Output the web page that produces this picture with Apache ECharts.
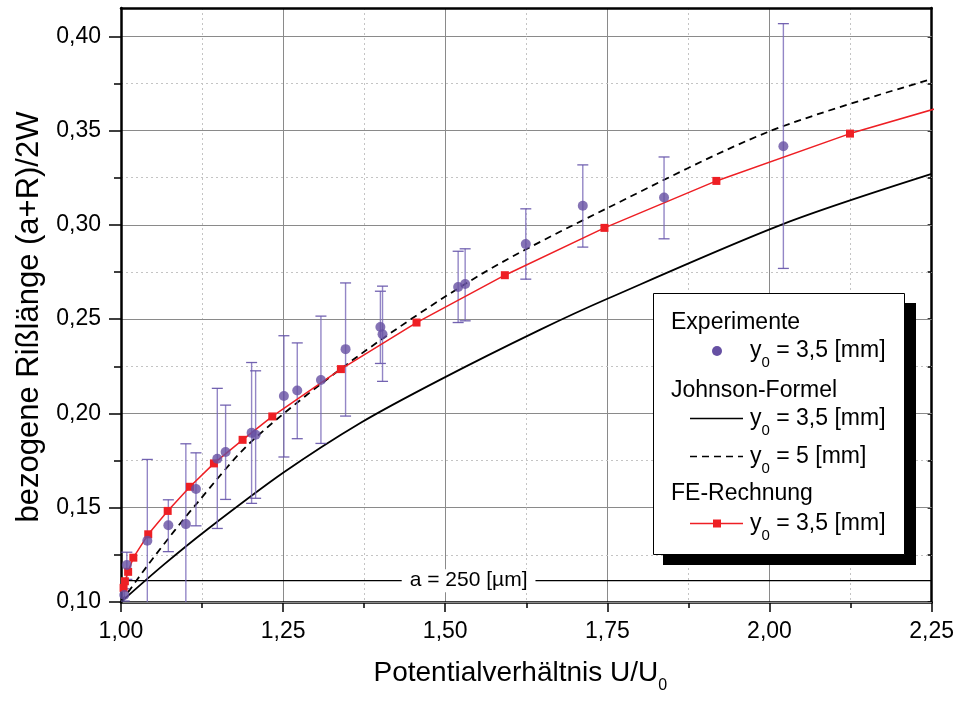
<!DOCTYPE html>
<html><head><meta charset="utf-8">
<script src="https://cdn.jsdelivr.net/npm/echarts@6/dist/echarts.min.js"></script>
<style>html,body{margin:0;padding:0;background:#fff}#c{width:957px;height:701px}</style>
</head><body><div id="c"></div>
<script>
// Experiment points [U/U0, (a+R)/2W]
const EXP = [
  [1.005, 0.1037], [1.009, 0.1196], [1.0406, 0.1325], [1.073, 0.1407], [1.100, 0.1413],
  [1.1156, 0.1599], [1.1485, 0.1760], [1.1613, 0.1795], [1.2014, 0.1897], [1.2076, 0.1887],
  [1.2512, 0.2092], [1.2718, 0.2122], [1.3083, 0.2177], [1.3463, 0.2341], [1.400, 0.2458],
  [1.4033, 0.2420], [1.5199, 0.2670], [1.5307, 0.2686], [1.6242, 0.2898], [1.7121, 0.3101],
  [1.8374, 0.3145], [2.0214, 0.3417]
];
// Error bars [U/U0, low, high]
const EXP_ERR = [
  [1.005, 0.1005, 0.1070], [1.009, 0.1120, 0.1264], [1.0406, 0.085, 0.1756], [1.073, 0.1267, 0.1542],
  [1.100, 0.085, 0.1839], [1.1156, 0.1404, 0.1791], [1.1485, 0.1390, 0.2133], [1.1613, 0.1544, 0.2044],
  [1.2014, 0.1523, 0.2270], [1.2076, 0.1550, 0.2226], [1.2512, 0.1769, 0.2412], [1.2718, 0.1866, 0.2374],
  [1.3083, 0.1841, 0.2516], [1.3463, 0.1986, 0.2692], [1.400, 0.2265, 0.2648], [1.4033, 0.2170, 0.2675],
  [1.5199, 0.2482, 0.2860], [1.5307, 0.2491, 0.2873], [1.6242, 0.2712, 0.3085], [1.7121, 0.2882, 0.3318],
  [1.8374, 0.2926, 0.3360], [2.0214, 0.2769, 0.4067]
];
// FE-Rechnung
const FE = [
  [1.004, 0.1075], [1.006, 0.1110], [1.011, 0.1160], [1.019, 0.1235],
  [1.042, 0.1359], [1.072, 0.1483], [1.1063, 0.1611], [1.1433, 0.1735], [1.1875, 0.1860],
  [1.2333, 0.1984], [1.3391, 0.2235], [1.4557, 0.2482], [1.5919, 0.2733], [1.7455, 0.2984],
  [1.9181, 0.3233], [2.1241, 0.3484], [2.36, 0.3720]
];
// Johnson-Formel y0 = 3,5 mm
const JOHNSON_35 = [
  [1.000, 0.1000], [1.066, 0.1198], [1.132, 0.1382], [1.250, 0.1685],
  [1.3684, 0.1948], [1.4917, 0.2178], [1.6458, 0.2443], [1.750, 0.2608], [2.0208, 0.3004],
  [2.250, 0.3270]
];
// Johnson-Formel y0 = 5 mm
const JOHNSON_5 = [
  [1.000, 0.1000], [1.050, 0.1235], [1.1167, 0.1522], [1.2039, 0.1860], [1.3684, 0.2311],
  [1.5584, 0.2744], [1.750, 0.3089], [2.000, 0.3496], [2.250, 0.3773]
];
const A250 = 0.1113;
const A250_LABEL_X = 1.536;
const Y_MAJOR = [0.10, 0.15, 0.20, 0.25, 0.30, 0.35, 0.40];
const Y_MINOR = [0.125, 0.175, 0.225, 0.275, 0.325, 0.375];
const Y_ALL = [0.10, 0.125, 0.15, 0.175, 0.20, 0.225, 0.25, 0.275, 0.30, 0.325, 0.35, 0.375, 0.40];

const FONT = "'Liberation Sans', Arial, sans-serif";
const fmt = v => v.toFixed(2).replace('.', ',');
const sub = (fs, subfs) => ({
  m: {fontSize: fs, fontFamily: FONT, color: '#000', lineHeight: fs + 8, verticalAlign: 'top'},
  s: {fontSize: subfs, fontFamily: FONT, color: '#000', lineHeight: subfs, verticalAlign: 'bottom'}
});

const chart = echarts.init(document.getElementById('c'), null, {renderer: 'canvas'});
const GRID = {left: 121, right: 25, top: 8, bottom: 99};

const legendItems = [];
function lText(x, y, t, rich) {
  legendItems.push({type: 'text', left: x, top: y, z: 102,
    style: rich ? {text: t, rich: sub(23, 15), fill: '#000'} : {text: t, font: '23px ' + FONT, fill: '#000'}});
}
legendItems.push({type: 'rect', shape: {x: 663, y: 303, width: 253, height: 262}, style: {fill: '#000'}, z: 100});
legendItems.push({type: 'rect', shape: {x: 653.5, y: 293.5, width: 251, height: 261}, style: {fill: '#fff', stroke: '#000', lineWidth: 1}, z: 101});
lText(671, 311, 'Experimente');
legendItems.push({type: 'circle', shape: {cx: 717, cy: 351, r: 5}, style: {fill: '#6650a3'}, z: 102});
lText(750, 339, '{m|y}{s|0}{m| = 3,5 [mm]}', true);
lText(671, 379, 'Johnson-Formel');
legendItems.push({type: 'line', shape: {x1: 690, y1: 418.5, x2: 743, y2: 418.5}, style: {stroke: '#000', lineWidth: 1.5}, z: 102});
lText(750, 407, '{m|y}{s|0}{m| = 3,5 [mm]}', true);
legendItems.push({type: 'line', shape: {x1: 690, y1: 456.5, x2: 743, y2: 456.5}, style: {stroke: '#000', lineWidth: 1.5, lineDash: [7, 5]}, z: 102});
lText(750, 445, '{m|y}{s|0}{m| = 5 [mm]}', true);
lText(671, 482, 'FE-Rechnung');
legendItems.push({type: 'line', shape: {x1: 690, y1: 523.5, x2: 743, y2: 523.5}, style: {stroke: '#ee1f24', lineWidth: 1.5}, z: 102});
legendItems.push({type: 'rect', shape: {x: 713, y: 519.5, width: 8, height: 8}, style: {fill: '#ee1f24'}, z: 103});
lText(750, 512, '{m|y}{s|0}{m| = 3,5 [mm]}', true);

const option = {
  backgroundColor: '#fff',
  animation: false,
  grid: GRID,
  xAxis: [{
    type: 'value', min: 1, max: 2.25, interval: 0.25, position: 'bottom',
    axisLine: {show: true, onZero: false, lineStyle: {color: '#000', width: 2.5}},
    axisTick: {show: true, inside: false, length: 10, lineStyle: {color: '#000', width: 1.5}},
    minorTick: {show: true, splitNumber: 2, length: 6, lineStyle: {color: '#000', width: 1.5}},
    splitLine: {show: true, lineStyle: {color: '#8a8a8a', width: 1}},
    minorSplitLine: {show: true, lineStyle: {color: '#c4c4c4', width: 1, type: [2, 3]}},
    axisLabel: {formatter: fmt, fontSize: 23, fontFamily: FONT, color: '#000', margin: 18},
    name: '{m|Potentialverhältnis U/U}{s|0}', nameLocation: 'middle', nameGap: 57,
    nameTextStyle: {padding: [0, 12, 0, 0], rich: {
      m: {fontSize: 28, fontFamily: FONT, color: '#000', lineHeight: 35, verticalAlign: 'top'},
      s: {fontSize: 16, fontFamily: FONT, color: '#000', lineHeight: 16, verticalAlign: 'bottom'}
    }}
  }, {
    type: 'value', min: 1, max: 2.25, interval: 0.25, position: 'top',
    axisLine: {show: true, onZero: false, lineStyle: {color: '#000', width: 2.5}},
    axisTick: {show: false}, axisLabel: {show: false}, splitLine: {show: false}
  }],
  yAxis: [{
    type: 'value', min: 0.10, max: 0.415, interval: 0.05, position: 'left', z: 2,
    axisLine: {show: true, onZero: false, lineStyle: {color: '#000', width: 2.5}},
    axisTick: {show: true, length: 12, customValues: Y_MAJOR, lineStyle: {color: '#000', width: 1.5}},
    splitLine: {show: true, lineStyle: {color: '#8a8a8a', width: 1}},
    axisLabel: {customValues: Y_MAJOR, formatter: fmt, fontSize: 23, fontFamily: FONT, color: '#000', margin: 20},
    name: 'bezogene Rißlänge (a+R)/2W', nameLocation: 'middle', nameGap: 74,
    nameTextStyle: {fontSize: 31, fontFamily: FONT, color: '#000', padding: [0, 24, 0, 0]}
  }, {
    type: 'value', min: 0.10, max: 0.415, interval: 0.025, position: 'left', z: 1,
    axisLine: {show: false},
    axisTick: {show: true, length: 7, customValues: Y_MINOR, lineStyle: {color: '#000', width: 1.5}},
    splitLine: {show: true, lineStyle: {color: '#c4c4c4', width: 1, type: [2, 3]}},
    axisLabel: {show: false}
  }, {
    type: 'value', min: 0.10, max: 0.415, interval: 0.025, position: 'right',
    axisLine: {show: true, onZero: false, lineStyle: {color: '#000', width: 2.5}},
    axisTick: {show: true, inside: true, length: 4, customValues: Y_ALL, lineStyle: {color: '#000', width: 1.5}},
    splitLine: {show: false}, axisLabel: {show: false}
  }],
  graphic: legendItems,
  series: [
    {
      name: 'a250', type: 'line', xAxisIndex: 0, yAxisIndex: 0, symbol: 'none', silent: true, z: 3,
      data: [[1.0, A250], [2.25, A250]],
      lineStyle: {color: '#000', width: 1.3},
      markPoint: {
        symbol: 'rect', symbolSize: 1, itemStyle: {color: 'rgba(0,0,0,0)'}, silent: true,
        label: {show: true, position: 'inside', formatter: 'a = 250 [µm]', backgroundColor: '#fff',
          padding: [1, 8, 1, 8], fontSize: 21, fontFamily: FONT, color: '#000'},
        data: [{coord: [A250_LABEL_X, A250]}]
      }
    },
    {
      name: 'Johnson 3,5', type: 'line', xAxisIndex: 0, yAxisIndex: 0, symbol: 'none', smooth: 0.3,
      data: JOHNSON_35, lineStyle: {color: '#000', width: 1.8}, z: 4
    },
    {
      name: 'Johnson 5', type: 'line', xAxisIndex: 0, yAxisIndex: 0, symbol: 'none', smooth: 0.3,
      data: JOHNSON_5, lineStyle: {color: '#000', width: 1.8, type: [7, 5]}, z: 4
    },
    {
      name: 'err', type: 'custom', xAxisIndex: 0, yAxisIndex: 0, clip: true, z: 5,
      data: EXP_ERR,
      renderItem: function (params, api) {
        const x = api.value(0), lo = api.value(1), hi = api.value(2);
        const pLo = api.coord([x, lo]), pHi = api.coord([x, hi]);
        const hw = 5.5;
        return {type: 'group', children: [
          {type: 'line', shape: {x1: pLo[0], y1: pLo[1], x2: pHi[0], y2: pHi[1]}, style: {stroke: 'rgba(120,104,184,0.8)', lineWidth: 1.4}},
          {type: 'line', shape: {x1: pHi[0] - hw, y1: pHi[1], x2: pHi[0] + hw, y2: pHi[1]}, style: {stroke: 'rgba(100,82,168,0.9)', lineWidth: 1.3}},
          {type: 'line', shape: {x1: pLo[0] - hw, y1: pLo[1], x2: pLo[0] + hw, y2: pLo[1]}, style: {stroke: 'rgba(100,82,168,0.9)', lineWidth: 1.3}}
        ]};
      }
    },
    {
      name: 'FE', type: 'line', xAxisIndex: 0, yAxisIndex: 0, symbol: 'rect', symbolSize: 8, clip: true,
      data: FE, lineStyle: {color: '#ee1f24', width: 1.5}, itemStyle: {color: '#ee1f24'}, z: 6
    },
    {
      name: 'Experimente', type: 'scatter', xAxisIndex: 0, yAxisIndex: 0, symbol: 'circle', symbolSize: 10,
      data: EXP, itemStyle: {color: '#6650a3'}, z: 7
    }
  ]
};
chart.setOption(option);
</script></body></html>
